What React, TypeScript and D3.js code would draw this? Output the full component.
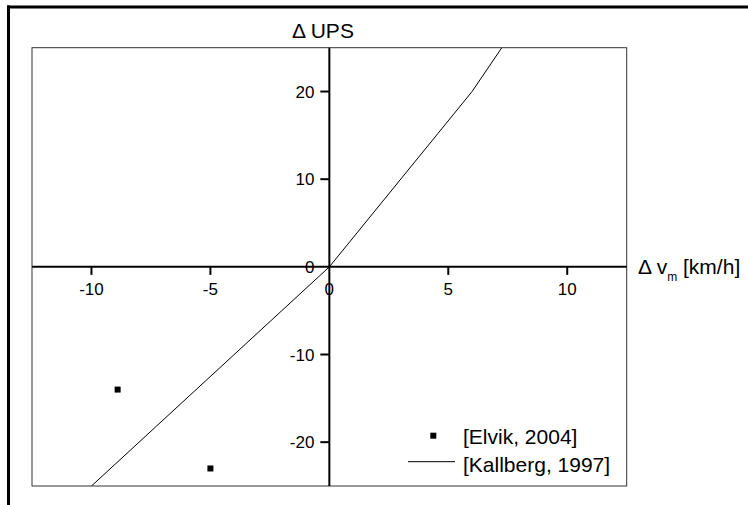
import React from "react";
import * as d3 from "d3";

const xTicks = [-10, -5, 0, 5, 10];
const yTicks = [-20, -10, 0, 10, 20];
const elvikX = [-8.9, -5.0];
const elvikY = [-14.0, -23.0];
const kallbergX = [-10, 0, 6, 7.25];
const kallbergY = [-25, 0, 20, 25];
const legendLabels = ["[Elvik, 2004]", "[Kallberg, 1997]"];

export default function App() {
  const W = 748, H = 505;
  const L = 32, R = 626.7, T = 47.7, B = 486;
  const x = d3.scaleLinear().domain([-12.5, 12.5]).range([L, R]);
  const y = d3.scaleLinear().domain([-25, 25]).range([B, T]);
  const x0 = x(0), y0 = y(0);
  const lineGen = d3.line<number>().x((_, i) => x(kallbergX[i])).y((_, i) => y(kallbergY[i]));
  const path = lineGen(kallbergX) || "";
  const font = "'Liberation Sans', Arial, sans-serif";
  return (
    <svg width={W} height={H} style={{ position: "absolute", left: 0, top: 0, background: "#fff" }} fontFamily={font}>
      <defs>
        <clipPath id="plotclip">
          <rect x={L} y={T} width={R - L} height={B - T} />
        </clipPath>
      </defs>
      {/* outer frame */}
      <line x1={7} y1={7} x2={W} y2={7} stroke="#000" strokeWidth={3} />
      <line x1={8.5} y1={5.5} x2={8.5} y2={H} stroke="#000" strokeWidth={3} />
      {/* plot box */}
      <rect x={L} y={T} width={R - L} height={B - T} fill="none" stroke="#333" strokeWidth={1} />
      {/* zero axes */}
      <line x1={L} y1={y0} x2={R} y2={y0} stroke="#000" strokeWidth={2} />
      <line x1={x0} y1={T} x2={x0} y2={B} stroke="#000" strokeWidth={2} />
      {/* x ticks */}
      {xTicks.map((t) => (
        <g key={"xt" + t}>
          {t !== 0 && <line x1={x(t)} y1={y0} x2={x(t)} y2={y0 + 8} stroke="#000" strokeWidth={2} />}
          <text x={x(t)} y={y0 + 28.5} textAnchor="middle" fontSize={17} fill="#000">{t}</text>
        </g>
      ))}
      {/* y ticks */}
      {yTicks.map((t) => (
        <g key={"yt" + t}>
          {t !== 0 && <line x1={x0 - 9} y1={y(t)} x2={x0} y2={y(t)} stroke="#000" strokeWidth={2} />}
          <text x={x0 - 15} y={y(t)} dy="0.36em" textAnchor="end" fontSize={17} fill="#000">{t}</text>
        </g>
      ))}
      {/* series */}
      <path d={path} fill="none" stroke="#000" strokeWidth={1} clipPath="url(#plotclip)" />
      {elvikX.map((v, i) => (
        <rect key={"e" + i} x={x(v) - 3} y={y(elvikY[i]) - 3} width={6} height={6} fill="#000" />
      ))}
      {/* axis labels */}
      <text x={292} y={38} fontSize={21} fill="#000">Δ UPS</text>
      <text x={638} y={274} fontSize={21} fill="#000">
        Δ v<tspan fontSize={12} dy={7}>m</tspan><tspan dy={-7}> [km/h]</tspan>
      </text>
      {/* legend */}
      <rect x={430.3} y={432.7} width={6} height={6} fill="#000" />
      <text x={463} y={444} fontSize={21} fill="#000">{legendLabels[0]}</text>
      <line x1={408} y1={461.7} x2={455} y2={461.7} stroke="#000" strokeWidth={1} />
      <text x={463} y={471.5} fontSize={21} fill="#000">{legendLabels[1]}</text>
    </svg>
  );
}
